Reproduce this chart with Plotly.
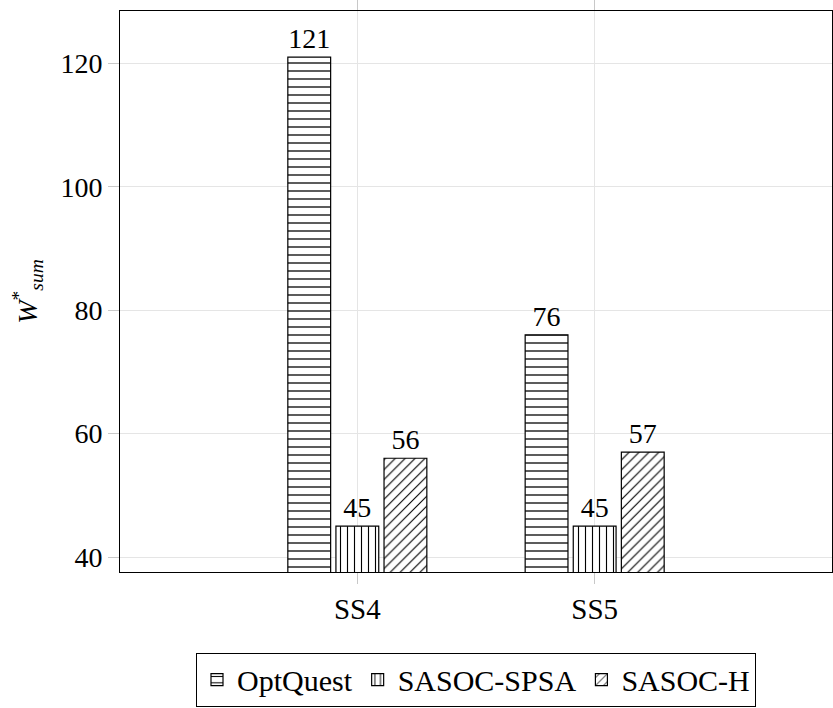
import plotly.graph_objects as go

# Scenarios on the x axis and the W*_sum reached by each method
scenarios = ["SS4", "SS5"]
optquest = [121, 76]
sasoc_spsa = [45, 45]
sasoc_h = [56, 57]

series = [
    ("OptQuest", optquest, "-", 8),
    ("SASOC-SPSA", sasoc_spsa, "|", 7),
    ("SASOC-H", sasoc_h, "/", 7),
]

FONT = "Liberation Serif"
GRID = "#e5e5e5"

fig = go.Figure()
for name, values, shape, size in series:
    fig.add_trace(go.Bar(
        name=name,
        x=scenarios,
        y=values,
        text=[str(v) for v in values],
        textposition="outside",
        textfont=dict(family=FONT, size=28, color="black"),
        cliponaxis=False,
        constraintext="none",
        marker=dict(
            color="white",
            line=dict(color="black", width=1.2),
            pattern=dict(shape=shape, size=size, solidity=0.16,
                         fgcolor="black", bgcolor="white", fillmode="replace"),
        ),
    ))

fig.update_layout(
    width=833, height=708,
    margin=dict(l=120, r=1, t=11, b=136, autoexpand=False),
    paper_bgcolor="white", plot_bgcolor="white",
    barmode="group", bargap=0.392, bargroupgap=0.11,
    font=dict(family=FONT, size=28, color="black"),
    showlegend=True,
    legend=dict(
        orientation="h", x=0.5, xanchor="center", y=-0.24, yanchor="bottom",
        bordercolor="black", borderwidth=1, bgcolor="white",
        font=dict(family=FONT, size=30), traceorder="normal",
        itemwidth=30,
    ),
)

fig.update_xaxes(
    type="category", range=[-1, 2],
    showline=True, linecolor="black", linewidth=1, mirror="ticks",
    showgrid=True, gridcolor=GRID, gridwidth=1,
    ticks="outside", ticklen=11, tickcolor="#c8c8c8", tickwidth=1,
    tickfont=dict(family=FONT, size=29), zeroline=False,
)
fig.update_yaxes(
    range=[37.57, 128.47], tick0=0, dtick=20,
    showline=True, linecolor="black", linewidth=1, mirror="ticks",
    showgrid=True, gridcolor=GRID, gridwidth=1,
    ticks="outside", ticklen=11, tickcolor="#c8c8c8", tickwidth=1,
    tickfont=dict(family=FONT, size=28), zeroline=False,
    title=dict(text="<i>W</i><sup>*</sup><sub><i>sum</i></sub>",
               font=dict(family=FONT, size=28), standoff=14),
)

fig.write_html("out.html")
